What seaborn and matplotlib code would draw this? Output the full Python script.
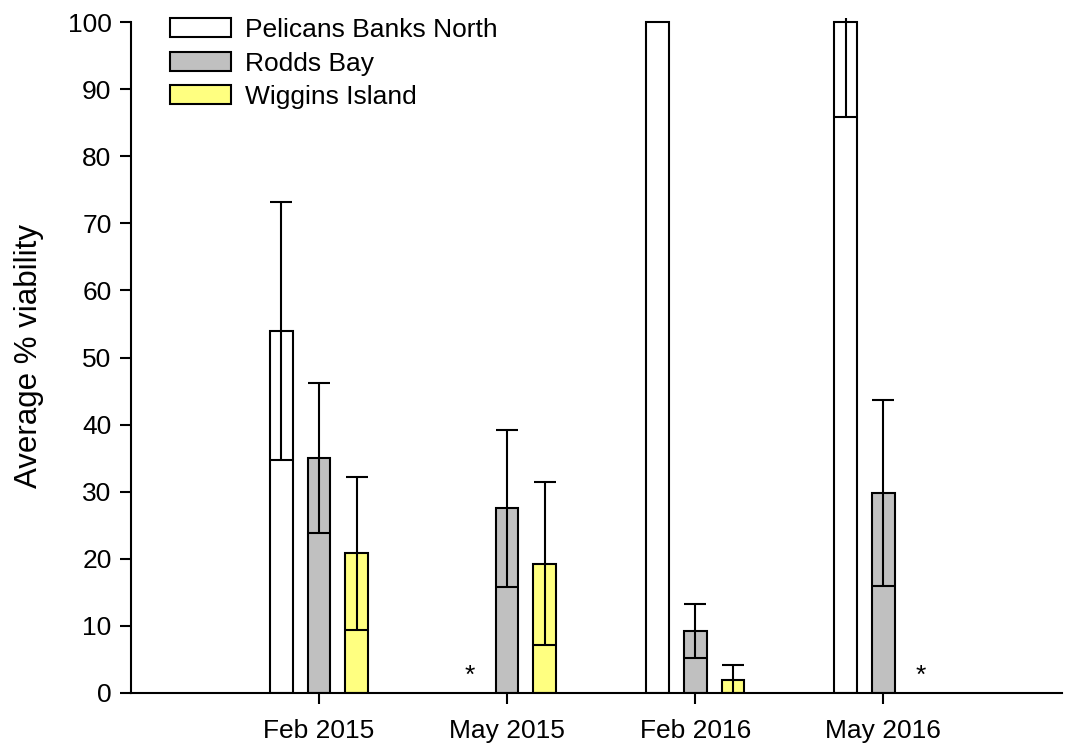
import numpy as np
import pandas as pd
import matplotlib
matplotlib.use("Agg")
import matplotlib.pyplot as plt
import seaborn as sns

# Sampling periods and sites
periods = ["Feb 2015", "May 2015", "Feb 2016", "May 2016"]
sites = ["Pelicans Banks North", "Rodds Bay", "Wiggins Island"]

# Mean % viability and standard error per site (NaN = not sampled)
pelicans_mean = [54.0, np.nan, 100.0, 100.0]
pelicans_se = [19.2, np.nan, 0.0, 14.2]
rodds_mean = [35.0, 27.5, 9.2, 29.8]
rodds_se = [11.2, 11.7, 4.0, 13.9]
wiggins_mean = [20.8, 19.3, 1.9, np.nan]
wiggins_se = [11.4, 12.2, 2.3, np.nan]

y_ticks = list(range(0, 101, 10))
site_colors = ["#FFFFFF", "#C0C0C0", "#FFFF80"]

means = [pelicans_mean, rodds_mean, wiggins_mean]
ses = [pelicans_se, rodds_se, wiggins_se]

rows = []
for site, m_list, s_list in zip(sites, means, ses):
    for period, m, s in zip(periods, m_list, s_list):
        rows.append({"period": period, "site": site, "viability": m, "se": s})
df = pd.DataFrame(rows)

sns.set_theme(style="ticks")
plt.rcParams["font.family"] = ["Liberation Sans", "DejaVu Sans"]
plt.rcParams["text.color"] = "black"
plt.rcParams["axes.labelcolor"] = "black"
FS = 19

fig = plt.figure(figsize=(10.66, 7.44), dpi=100)
ax = fig.add_axes([131 / 1066, 51 / 744, 931 / 1066, 675 / 744])

sns.barplot(
    data=df, x="period", y="viability", hue="site",
    order=periods, hue_order=sites, palette=site_colors,
    saturation=1, width=0.6, gap=0.4, errorbar=None,
    edgecolor="black", linewidth=1.5, ax=ax,
)

# Standard-error bars centred on each drawn bar
for cont, m_list, s_list in zip(ax.containers, means, ses):
    for p in cont.patches:
        xc = p.get_x() + p.get_width() / 2
        i = int(round(xc))
        m, s = m_list[i], s_list[i]
        if np.isnan(m) or not s:
            continue
        ax.errorbar(xc, m, yerr=s, fmt="none", ecolor="black",
                    elinewidth=1.5, capsize=8, capthick=1.5, zorder=4)

# Asterisks mark sites that were not sampled
n_sites = len(sites)
slot = 0.6 / n_sites
for j, m_list in enumerate(means):
    for i, m in enumerate(m_list):
        if np.isnan(m):
            ax.text(i + (j - (n_sites - 1) / 2) * slot, 2.6, "*",
                    ha="center", va="center", fontsize=FS, color="black")

ax.set_xlim(-1.0, 3.95)
ax.set_ylim(0, 100.6)
ax.set_yticks(y_ticks)
ax.set_yticklabels([str(t) for t in y_ticks], fontsize=FS)
ax.set_xticks(range(len(periods)))
ax.set_xticklabels(periods, fontsize=FS)
ax.set_xlabel("")
ax.set_ylabel("Average % viability", fontsize=22.5)
ax.yaxis.set_label_coords(-0.093, 0.5)

sns.despine(ax=ax)
ax.spines["left"].set_bounds(0, 100)
for side in ("left", "bottom"):
    ax.spines[side].set_linewidth(1.5)
    ax.spines[side].set_color("black")
ax.tick_params(direction="out", length=8, width=1.5, colors="black",
               labelcolor="black")
ax.tick_params(axis="y", pad=6)
ax.tick_params(axis="x", pad=10.5)

handles, labels = ax.get_legend_handles_labels()
for h in handles:
    h.set_edgecolor("black")
    h.set_linewidth(1.5)
ax.get_legend().remove()
fig.legend(handles, labels, loc="upper left",
           bbox_to_anchor=(170 / 1066, 1 - 18 / 744),
           frameon=False, fontsize=FS, borderpad=0, borderaxespad=0,
           handlelength=2.3, handleheight=0.75, handletextpad=0.55,
           labelspacing=0.36)

fig.savefig("out.png", dpi=100)
